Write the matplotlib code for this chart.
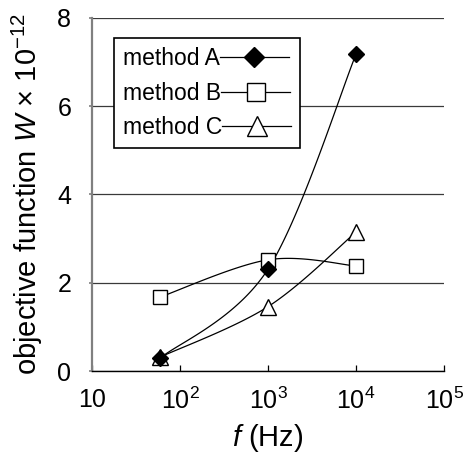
import numpy as np
import matplotlib
matplotlib.use("Agg")
import matplotlib.pyplot as plt
from matplotlib.ticker import FixedLocator, NullLocator

plt.rcParams['font.family'] = ['Liberation Sans', 'DejaVu Sans']
plt.rcParams['mathtext.fontset'] = 'custom'
plt.rcParams['mathtext.rm'] = 'Liberation Sans'
plt.rcParams['mathtext.it'] = 'Liberation Sans:italic'

# frequencies (Hz) and objective function values (x 1e-12)
freq = [60, 1000, 10000]
method_a = [0.30, 2.31, 7.18]
method_b = [1.68, 2.52, 2.38]
method_c = [0.32, 1.46, 3.15]

x_ticks = [10, 100, 1000, 10000, 100000]
x_tick_labels = ['10', r'$10^{2}$', r'$10^{3}$', r'$10^{4}$', r'$10^{5}$']
y_ticks = [0, 2, 4, 6, 8]


def smooth(xs, ys, n=60):
    """Cardinal-spline (Bezier) smoothing in log-x / linear-y space."""
    lx = np.log10(np.asarray(xs, float))
    y = np.asarray(ys, float)
    P = np.column_stack([lx, y])
    m = len(P)
    out = []
    t = np.linspace(0, 1, n)[:, None]
    for i in range(m - 1):
        p0 = P[max(i - 1, 0)]
        p1 = P[i]
        p2 = P[i + 1]
        p3 = P[min(i + 2, m - 1)]
        c1 = p1 + (p2 - p0) / 6.0
        c2 = p2 - (p3 - p1) / 6.0
        seg = ((1 - t) ** 3) * p1 + 3 * ((1 - t) ** 2) * t * c1 \
            + 3 * (1 - t) * t ** 2 * c2 + t ** 3 * p2
        out.append(seg if i == 0 else seg[1:])
    seg = np.vstack(out)
    return 10 ** seg[:, 0], seg[:, 1]


fig = plt.figure(figsize=(4.67, 4.57), dpi=100)
ax = fig.add_axes([0.197, 0.188, 0.754, 0.773])

series = [
    ('method A', method_a, 4.6, dict(marker='D', markersize=7.8, markerfacecolor='black',
                                     markeredgecolor='black')),
    ('method B', method_b, 4.2, dict(marker='s', markersize=10, markerfacecolor='white',
                                     markeredgecolor='black', markeredgewidth=1.0)),
    ('method C', method_c, 4.0, dict(marker='^', markersize=11.5, markerfacecolor='white',
                                     markeredgecolor='black', markeredgewidth=1.0)),
]

handles = []
for label, vals, z, mstyle in series:
    sx, sy = smooth(freq, vals)
    ax.plot(sx, sy, color='black', linewidth=0.9, zorder=3)
    ax.plot(freq, vals, linestyle='none', zorder=z, **mstyle)
    h, = ax.plot([], [], color='black', linewidth=0.9, label=label, **mstyle)
    handles.append(h)

ax.set_xscale('log')
ax.set_xlim(10, 100000)
ax.set_ylim(0, 8)
ax.xaxis.set_major_locator(FixedLocator(x_ticks))
ax.xaxis.set_minor_locator(NullLocator())
ax.set_xticklabels(x_tick_labels)
ax.set_yticks(y_ticks)
ax.set_yticklabels([str(v) for v in y_ticks])

ax.grid(axis='y', color='#3a3a3a', linewidth=0.9, zorder=1)
ax.set_axisbelow(True)
for s in ('top', 'right'):
    ax.spines[s].set_visible(False)
ax.spines['left'].set_color('#808080')
ax.spines['left'].set_linewidth(1.6)
ax.spines['bottom'].set_color('black')
ax.spines['bottom'].set_linewidth(1.0)

ax.tick_params(axis='x', direction='in', length=4, width=0.9, color='black',
               labelsize=18, pad=12)
ax.tick_params(axis='y', direction='out', length=2, width=1.2, color='#808080',
               labelsize=18, pad=13)

ax.set_xlabel(r'$f$ (Hz)', fontsize=21, labelpad=6)
ax.set_ylabel(r'objective function $W$ × $10^{-12}$', fontsize=21, labelpad=9)

leg = ax.legend(handles=handles, loc='upper left', bbox_to_anchor=(0.0625, 0.943),
                borderaxespad=0, fontsize=16.5, markerfirst=False, handlelength=3.0,
                handletextpad=0.0, labelspacing=0.5, borderpad=0.4,
                markerscale=1.25, fancybox=False, framealpha=1, edgecolor='black')
leg.get_frame().set_linewidth(1.2)
leg.set_zorder(5)
# left-align the label/handle rows inside the legend column
try:
    for col in leg._legend_handle_box.get_children():
        col.align = 'left'
except AttributeError:
    pass

fig.savefig('out.png', dpi=100)
